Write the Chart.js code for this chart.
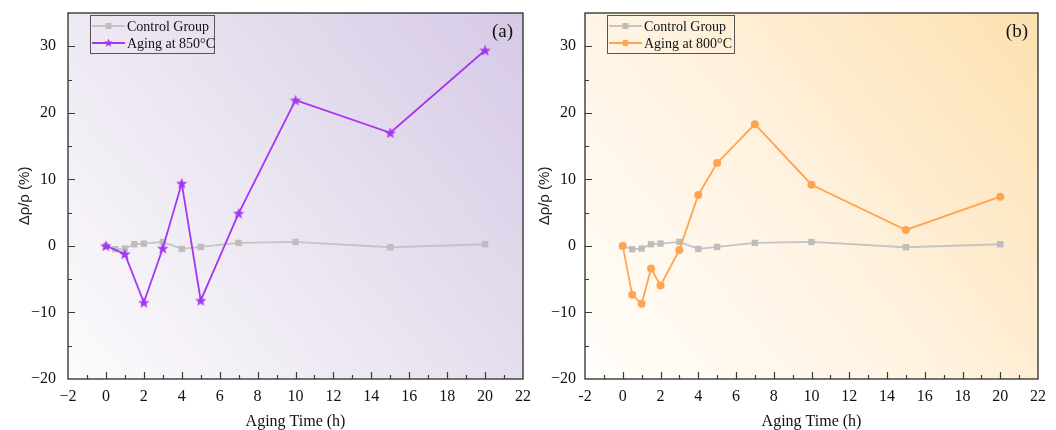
<!DOCTYPE html>
<html>
<head>
<meta charset="utf-8">
<script src="https://cdn.jsdelivr.net/npm/chart.js@4/dist/chart.umd.min.js"></script>
<style>
  html, body { margin: 0; padding: 0; background: #ffffff; }
  #wrap { position: relative; width: 1056px; height: 430px; overflow: hidden; }
  canvas { position: absolute; top: 0; }
</style>
</head>
<body>
<div id="wrap">
  <canvas id="ca" width="545" height="430" style="left:0px"></canvas>
  <canvas id="cb" width="528" height="430" style="left:528px"></canvas>
</div>
<script>
// ---------- data ----------
const controlTime   = [0, 0.5, 1, 1.5, 2, 3, 4, 5, 7, 10, 15, 20];
const controlValues = [0, -0.5, -0.4, 0.25, 0.35, 0.6, -0.45, -0.15, 0.45, 0.6, -0.2, 0.25];

const time850   = [0, 1, 2, 3, 4, 5, 7, 10, 15, 20];
const values850 = [0, -1.2, -8.5, -0.35, 9.4, -8.2, 4.9, 21.9, 17.0, 29.4];

const time800   = [0, 0.5, 1, 1.5, 2, 3, 4, 5, 7, 10, 15, 20];
const values800 = [0, -7.35, -8.7, -3.4, -5.95, -0.6, 7.65, 12.45, 18.3, 9.2, 2.4, 7.4];

const xTickValues = [-2, 0, 2, 4, 6, 8, 10, 12, 14, 16, 18, 20, 22];
const xMinorValues = [-1, 1, 3, 5, 7, 9, 11, 13, 15, 17, 19, 21];
const yTickValues = [-20, -10, 0, 10, 20, 30];
const yMinorValues = [-15, -5, 5, 15, 25];

const legendLabels = {
  a: ['Control Group', 'Aging at 850°C'],
  b: ['Control Group', 'Aging at 800°C']
};
const panelLabels = { a: '(a)', b: '(b)' };
const xTitle = 'Aging Time (h)';
const yTitle = 'Δρ/ρ (%)';

// ---------- styles ----------
const GRAY = '#c4c4c4';
const GRAY_PT = '#bdbdbd';
const PURPLE = '#a536f2';
const ORANGE = '#ffa552';
const FRAME = '#3a3a3a';
const SERIF = '"Liberation Serif", "Times New Roman", serif';
const SANS = '"Liberation Sans", Arial, sans-serif';

function toXY(xs, ys) { return xs.map((x, i) => ({ x: x, y: ys[i] })); }

function makeStar(color, r) {
  const c = document.createElement('canvas');
  const s = Math.ceil(r * 2 + 2);
  c.width = s; c.height = s;
  const g = c.getContext('2d');
  const cx = s / 2, cy = s / 2 + 0.5;
  g.beginPath();
  for (let i = 0; i < 10; i++) {
    const rad = (i % 2 === 0) ? r : r * 0.42;
    const a = -Math.PI / 2 + i * Math.PI / 5;
    const px = cx + rad * Math.cos(a), py = cy + rad * Math.sin(a);
    if (i === 0) g.moveTo(px, py); else g.lineTo(px, py);
  }
  g.closePath();
  g.fillStyle = color;
  g.fill();
  return c;
}
const starImg = makeStar(PURPLE, 6);

function fmtMinus(v, unicode) {
  if (v < 0) return (unicode ? '\u2212' : '-') + Math.abs(v);
  return String(v);
}

function zeroPad(s) {
  s.paddingTop = 0; s.paddingBottom = 0; s.paddingLeft = 0; s.paddingRight = 0;
}

// plugin: background gradient, frame, inward ticks, legend, panel label
const decorPlugin = {
  id: 'decor',
  beforeDraw(chart, args, opts) {
    const { ctx, chartArea: a } = chart;
    ctx.save();
    const g = ctx.createLinearGradient(a.left, a.bottom, a.right, a.top);
    g.addColorStop(0, opts.bg0);
    g.addColorStop(0.45, opts.bgMid);
    g.addColorStop(1, opts.bg1);
    ctx.fillStyle = g;
    ctx.fillRect(a.left, a.top, a.right - a.left, a.bottom - a.top);
    ctx.restore();
  },
  afterDraw(chart, args, opts) {
    const { ctx, chartArea: a } = chart;
    const xs = chart.scales.x, ys = chart.scales.y;
    ctx.save();
    ctx.strokeStyle = FRAME;
    ctx.lineWidth = 1.4;
    ctx.strokeRect(a.left, a.top, a.right - a.left, a.bottom - a.top);
    ctx.lineWidth = 1.2;
    ctx.beginPath();
    xTickValues.forEach(v => {
      const p = Math.round(xs.getPixelForValue(v)) + 0.5;
      if (p > a.left + 1 && p < a.right - 1) { ctx.moveTo(p, a.bottom); ctx.lineTo(p, a.bottom - 7); }
    });
    xMinorValues.forEach(v => {
      const p = Math.round(xs.getPixelForValue(v)) + 0.5;
      ctx.moveTo(p, a.bottom); ctx.lineTo(p, a.bottom - 4);
    });
    yTickValues.forEach(v => {
      const p = Math.round(ys.getPixelForValue(v)) + 0.5;
      if (p > a.top + 1 && p < a.bottom - 1) { ctx.moveTo(a.left, p); ctx.lineTo(a.left + 7, p); }
    });
    yMinorValues.forEach(v => {
      const p = Math.round(ys.getPixelForValue(v)) + 0.5;
      ctx.moveTo(a.left, p); ctx.lineTo(a.left + 4, p);
    });
    ctx.stroke();

    // legend
    const L = opts.legend;
    const bx = a.left + L.dx, by = a.top + 2;
    ctx.strokeStyle = '#555555';
    ctx.lineWidth = 1;
    ctx.strokeRect(bx + 0.5, by + 0.5, L.w, 38);
    const rows = [
      { y: by + 11, color: GRAY, kind: 'rect', ptColor: GRAY_PT },
      { y: by + 28, color: L.color, kind: L.kind, ptColor: L.color }
    ];
    ctx.font = '14px ' + SERIF;
    ctx.textBaseline = 'middle';
    ctx.textAlign = 'left';
    rows.forEach((r, i) => {
      ctx.strokeStyle = r.color;
      ctx.lineWidth = 2;
      ctx.beginPath();
      ctx.moveTo(bx + 2, r.y); ctx.lineTo(bx + 35, r.y);
      ctx.stroke();
      const cx = bx + 18.5;
      ctx.fillStyle = r.ptColor;
      if (r.kind === 'rect') {
        ctx.fillRect(cx - 3, r.y - 3, 6, 6);
      } else if (r.kind === 'circle') {
        ctx.beginPath(); ctx.arc(cx, r.y, 3.3, 0, Math.PI * 2); ctx.fill();
      } else {
        ctx.drawImage(makeStar(r.ptColor, 4.5), cx - 5.5, r.y - 6);
      }
      ctx.fillStyle = '#111111';
      ctx.fillText(opts.labels[i], bx + 37, r.y + 1);
    });

    // panel label
    ctx.font = '19px ' + SERIF;
    ctx.textAlign = 'right';
    ctx.fillStyle = '#111111';
    ctx.fillText(opts.panel, a.right - 10, a.top + 19);
    ctx.restore();
  }
};

function buildChart(canvasId, cfg) {
  return new Chart(document.getElementById(canvasId), {
    type: 'line',
    data: {
      datasets: [
        {
          label: cfg.labels[1],
          data: toXY(cfg.times, cfg.values),
          borderColor: cfg.color,
          backgroundColor: cfg.color,
          borderWidth: 1.8,
          pointStyle: cfg.pointStyle,
          pointRadius: cfg.pointRadius,
          pointBorderWidth: 0,
          pointBackgroundColor: cfg.color,
          tension: 0
        },
        {
          label: cfg.labels[0],
          data: toXY(controlTime, controlValues),
          borderColor: GRAY,
          backgroundColor: GRAY_PT,
          borderWidth: 1.8,
          pointStyle: 'rect',
          pointRadius: 4.5,
          pointBorderWidth: 0,
          pointBackgroundColor: GRAY_PT,
          tension: 0
        }
      ]
    },
    options: {
      responsive: false,
      animation: false,
      devicePixelRatio: 1,
      layout: { padding: { top: 13, right: cfg.padRight, left: 0, bottom: 0 } },
      plugins: {
        legend: { display: false },
        tooltip: { enabled: false },
        decor: {
          bg0: cfg.bg0, bgMid: cfg.bgMid, bg1: cfg.bg1,
          labels: cfg.labels,
          panel: cfg.panel,
          legend: { dx: cfg.legendDx, w: cfg.legendW, color: cfg.color, kind: cfg.kind }
        }
      },
      scales: {
        x: {
          type: 'linear',
          min: -2, max: 22,
          afterBuildTicks: (s) => { s.ticks = xTickValues.map(v => ({ value: v })); },
          afterFit: (s) => { s.height = 51; zeroPad(s); },
          grid: { display: false, drawTicks: false },
          border: { display: false },
          ticks: {
            color: '#111111',
            font: { family: SERIF, size: 16 },
            padding: 8,
            maxRotation: 0,
            autoSkip: false,
            callback: (v) => fmtMinus(v, cfg.unicodeX)
          },
          title: {
            display: true,
            text: xTitle,
            color: '#111111',
            font: { family: SERIF, size: 16, lineHeight: 1 },
            padding: { top: 0, bottom: 0 }
          }
        },
        y: {
          type: 'linear',
          min: -20, max: 35,
          afterBuildTicks: (s) => { s.ticks = yTickValues.map(v => ({ value: v })); },
          afterFit: (s) => { s.width = cfg.axisLeft; zeroPad(s); },
          grid: { display: false, drawTicks: false },
          border: { display: false },
          ticks: {
            color: '#111111',
            font: { family: SERIF, size: 16 },
            padding: cfg.yTickPad,
            autoSkip: false,
            callback: (v) => fmtMinus(v, true)
          },
          title: {
            display: true,
            text: yTitle,
            color: '#222222',
            font: { family: SANS, size: 15, lineHeight: 1 },
            padding: { top: cfg.yTitlePad, bottom: 0 }
          }
        }
      }
    },
    plugins: [decorPlugin]
  });
}

buildChart('ca', {
  times: time850, values: values850, labels: legendLabels.a, panel: panelLabels.a,
  color: PURPLE, pointStyle: starImg, pointRadius: 6, kind: 'star',
  bg0: '#fdfbfd', bgMid: '#ebe6f1', bg1: '#d6c9e6',
  axisLeft: 68, padRight: 22, yTickPad: 12, yTitlePad: 17.5,
  legendDx: 22, legendW: 124, unicodeX: true
});

buildChart('cb', {
  times: time800, values: values800, labels: legendLabels.b, panel: panelLabels.b,
  color: ORANGE, pointStyle: 'circle', pointRadius: 4, kind: 'circle',
  bg0: '#fffefb', bgMid: '#fff3e2', bg1: '#fde0af',
  axisLeft: 57, padRight: 18, yTickPad: 9, yTitlePad: 9.5,
  legendDx: 22, legendW: 127, unicodeX: false
});
</script>
</body>
</html>
